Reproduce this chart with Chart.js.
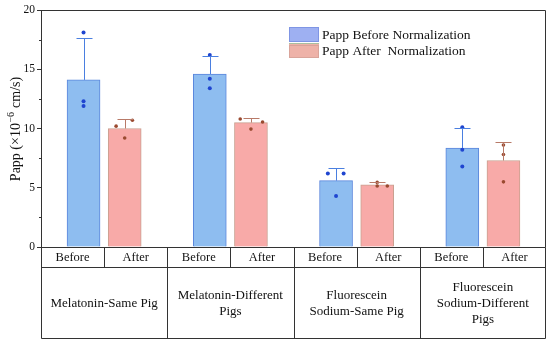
<!DOCTYPE html>
<html>
<head>
<meta charset="utf-8">
<script src="https://cdn.jsdelivr.net/npm/chart.js@4.4.0/dist/chart.umd.min.js"></script>
<style>
  body { margin: 0; background: #fff; }
  #wrap { width: 550px; height: 346px; }
</style>
</head>
<body>
<div id="wrap"><canvas id="pappChart" width="550" height="346"></canvas></div>
<script>
// group names (multi-line as in the table under the axis)
const groups = [
  ['Melatonin-Same Pig'],
  ['Melatonin-Different', 'Pigs'],
  ['Fluorescein', 'Sodium-Same Pig'],
  ['Fluorescein', 'Sodium-Different', 'Pigs']
];
const subLabels = ['Before', 'After'];

// mean values
const beforeMean = [14.1, 14.6, 5.6, 8.35];
const afterMean = [10.0, 10.5, 5.25, 7.3];
// top of error bars
const beforeErr = [17.6, 16.1, 6.7, 10.05];
const afterErr = [10.8, 10.85, 5.45, 8.9];
// individual measurements
const beforePts = [[18.1, 12.3, 11.9], [16.2, 14.2, 13.4], [6.2, 6.2, 4.3], [10.1, 8.2, 6.8]];
const afterPts = [[10.2, 10.7, 9.2], [10.8, 10.55, 9.95], [5.45, 5.15, 5.15], [8.6, 7.8, 5.5]];
// horizontal scatter of the points (category units)
const beforeJit = [[0, 0, 0], [0, 0, 0], [-0.065, 0.06, 0], [0, 0, 0]];
const afterJit = [[-0.068, 0.061, 0], [-0.085, 0.092, 0], [0, 0, 0.08], [0, 0, 0]];

// y axis ticks
const majorTicks = [0, 5, 10, 15, 20];
const minorTicks = [2.5, 7.5, 12.5, 17.5];

const legendLabels = ['Papp Before Normalization', 'Papp After  Normalization'];

const SHIFT = 0.163; // offset of each bar from group centre
const barData = (vals, side) => vals.map((v, i) => ({ x: i + side * SHIFT, y: v }));
function pointData(pts, jit, side) {
  const out = [];
  pts.forEach((arr, i) => {
    arr.forEach((v, k) => out.push({ x: i + side * SHIFT + jit[i][k], y: v }));
  });
  return out;
}

const serif = '"Liberation Serif", "Times New Roman", serif';

const extras = {
  id: 'extras',
  afterDatasetsDraw(chart) {
    const ctx = chart.ctx;
    const y = chart.scales.y;
    const errs = [beforeErr, afterErr];
    const means = [beforeMean, afterMean];
    const cols = ['#4a7fe0', '#b87a68'];
    ctx.save();
    [0, 1].forEach(d => {
      const meta = chart.getDatasetMeta(d);
      meta.data.forEach((bar, i) => {
        const x = Math.round(bar.x) + 0.5;
        const y0 = y.getPixelForValue(means[d][i]);
        const y1 = Math.round(y.getPixelForValue(errs[d][i])) + 0.5;
        ctx.strokeStyle = cols[d];
        ctx.lineWidth = 1;
        ctx.beginPath();
        ctx.moveTo(x, y0);
        ctx.lineTo(x, y1);
        ctx.moveTo(x - 8, y1);
        ctx.lineTo(x + 8, y1);
        ctx.stroke();
      });
    });
    ctx.restore();
  },
  afterDraw(chart) {
    const ctx = chart.ctx;
    const a = chart.chartArea;
    const xs = chart.scales.x;
    const ys = chart.scales.y;
    const L = Math.round(a.left) + 0.5, R = Math.round(a.right) - 0.5;
    const T = Math.round(a.top) + 0.5, B = Math.round(a.bottom) + 0.5;
    const row1 = B + 20, bot = 338.5;
    ctx.save();
    ctx.strokeStyle = '#333';
    ctx.lineWidth = 1;
    ctx.beginPath();
    // minor ticks
    minorTicks.forEach(v => {
      const py = Math.round(ys.getPixelForValue(v)) + 0.5;
      ctx.moveTo(L - 2.5, py); ctx.lineTo(L, py);
    });
    // frame of plot
    ctx.moveTo(L, T); ctx.lineTo(R, T); ctx.lineTo(R, B);
    // table
    ctx.moveTo(L, B); ctx.lineTo(R, B);
    ctx.moveTo(L, row1); ctx.lineTo(R, row1);
    ctx.moveTo(L, bot); ctx.lineTo(R, bot);
    ctx.moveTo(L, B); ctx.lineTo(L, bot);
    ctx.moveTo(R, B); ctx.lineTo(R, bot);
    const step = xs.getPixelForValue(1) - xs.getPixelForValue(0);
    groups.forEach((g, i) => {
      const c = xs.getPixelForValue(i);
      const cx = Math.round(c) + 0.5;
      ctx.moveTo(cx, B); ctx.lineTo(cx, row1);
      if (i > 0) {
        const bx = Math.round(c - step / 2) + 0.5;
        ctx.moveTo(bx, B); ctx.lineTo(bx, bot);
      }
    });
    ctx.stroke();

    ctx.fillStyle = '#111';
    ctx.textAlign = 'center';
    ctx.textBaseline = 'middle';
    groups.forEach((g, i) => {
      const c = xs.getPixelForValue(i);
      ctx.font = '12.5px ' + serif;
      ctx.fillText(subLabels[0], c - step / 4, B + 10.5);
      ctx.fillText(subLabels[1], c + step / 4, B + 10.5);
      ctx.font = '13px ' + serif;
      const mid = 304;
      g.forEach((line, k) => {
        ctx.fillText(line, c, mid + (k - (g.length - 1) / 2) * 16);
      });
    });

    // y axis title with a real superscript
    ctx.save();
    ctx.translate(16, (a.top + a.bottom) / 2 + 1);
    ctx.rotate(-Math.PI / 2);
    ctx.textAlign = 'left';
    ctx.textBaseline = 'middle';
    const p1 = 'Papp (×10', p2 = '−6', p3 = ' cm/s)';
    ctx.font = '14px ' + serif;
    const w1 = ctx.measureText(p1).width, w3 = ctx.measureText(p3).width;
    ctx.font = '10px ' + serif;
    const w2 = ctx.measureText(p2).width;
    let x0 = -(w1 + w2 + w3) / 2;
    ctx.font = '14px ' + serif;
    ctx.fillText(p1, x0, 0);
    ctx.font = '10px ' + serif;
    ctx.fillText(p2, x0 + w1 + 0.5, -5);
    ctx.font = '14px ' + serif;
    ctx.fillText(p3, x0 + w1 + w2 + 1, 0);
    ctx.restore();

    // legend
    const lx = 289, ly = 27;
    ctx.fillStyle = '#9eb0f2';
    ctx.fillRect(lx, ly, 30, 15);
    ctx.strokeStyle = '#7f95e4';
    ctx.strokeRect(lx + 0.5, ly + 0.5, 29, 14);
    ctx.fillStyle = '#eeb2a8';
    ctx.fillRect(lx, ly + 16, 30, 15);
    ctx.strokeStyle = '#a9c0a0';
    ctx.beginPath(); ctx.moveTo(lx, ly + 16.5); ctx.lineTo(lx + 30, ly + 16.5); ctx.stroke();
    ctx.strokeStyle = '#d9a49a';
    ctx.strokeRect(lx + 0.5, ly + 18.5, 29, 12);
    ctx.fillStyle = '#111';
    ctx.textAlign = 'left';
    ctx.textBaseline = 'middle';
    ctx.font = '13.5px ' + serif;
    ctx.fillText(legendLabels[0], lx + 33, ly + 8);
    ctx.fillText(legendLabels[1], lx + 33, ly + 24);
    ctx.restore();
  }
};

const barCommon = { borderWidth: 1, barThickness: 33, grouped: false, order: 2 };

new Chart(document.getElementById('pappChart'), {
  type: 'bar',
  data: {
    datasets: [
      Object.assign({
        label: legendLabels[0],
        data: barData(beforeMean, -1),
        backgroundColor: '#8ebdf0',
        borderColor: '#5a86dc'
      }, barCommon),
      Object.assign({
        label: legendLabels[1],
        data: barData(afterMean, 1),
        backgroundColor: '#f8aaa8',
        borderColor: '#c9a090'
      }, barCommon),
      {
        type: 'scatter',
        data: pointData(beforePts, beforeJit, -1),
        backgroundColor: '#1f45d0',
        borderWidth: 0,
        pointRadius: 2,
        order: 1
      },
      {
        type: 'scatter',
        data: pointData(afterPts, afterJit, 1),
        backgroundColor: '#9a4a30',
        borderWidth: 0,
        pointRadius: 1.8,
        order: 1
      }
    ]
  },
  options: {
    responsive: false,
    animation: false,
    layout: { padding: { top: 10, right: 4, bottom: 99, left: 0 } },
    plugins: { legend: { display: false }, tooltip: { enabled: false } },
    scales: {
      x: { type: 'linear', display: false, offset: false, min: -0.5, max: 3.5 },
      y: {
        min: majorTicks[0],
        max: majorTicks[majorTicks.length - 1],
        afterFit(scale) { scale.width = 41; },
        afterBuildTicks(scale) { scale.ticks = majorTicks.map(v => ({ value: v })); },
        border: { display: true, color: '#333' },
        grid: { drawOnChartArea: false, tickLength: 4, color: '#333' },
        ticks: {
          padding: 2,
          color: '#111',
          font: { family: serif, size: 11.5 }
        }
      }
    }
  },
  plugins: [extras]
});
</script>
</body>
</html>
